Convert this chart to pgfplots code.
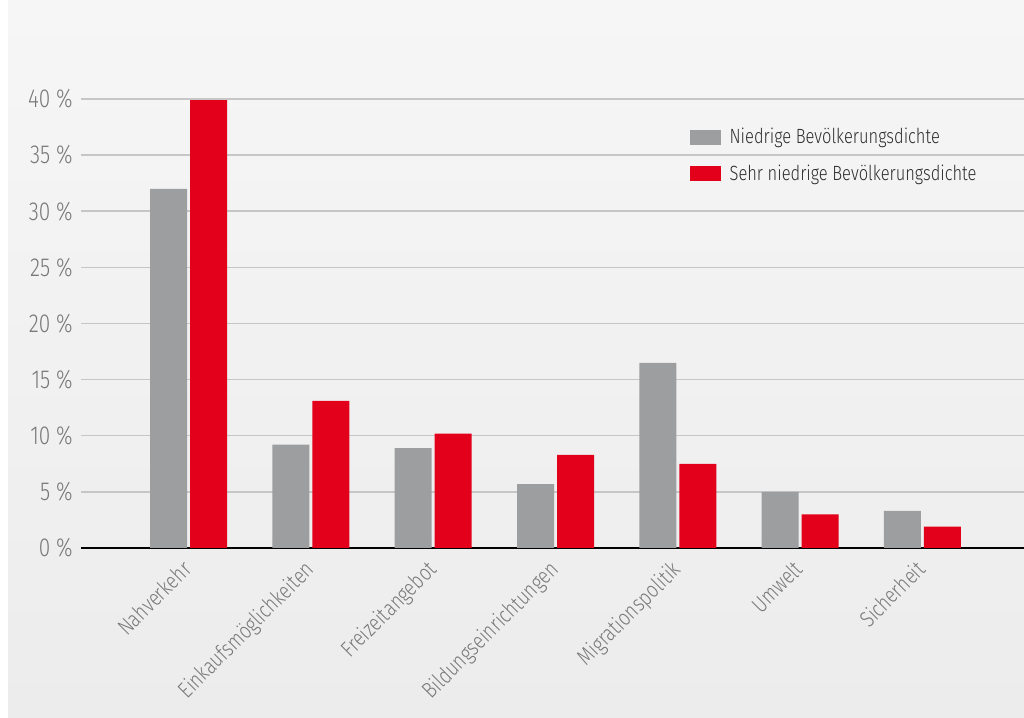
\documentclass[border=0pt]{standalone}
\usepackage{fontspec}
\setmainfont{Fira Sans Light}[FakeStretch=0.8]
\usepackage{pgfplots}
\usepackage{pgfplotstable}
\pgfplotsset{compat=1.18}
\definecolor{bargray}{HTML}{9D9EA0}
\definecolor{barred}{HTML}{E2001A}
\definecolor{txtgray}{HTML}{787878}
\definecolor{legtxt}{HTML}{2E2E2E}
\definecolor{gridgray}{HTML}{C6C6C6}
\definecolor{bgtop}{HTML}{F6F6F6}
\definecolor{bgbot}{HTML}{ECECEC}
\pgfplotstableread{
x gray red
0 32.0 39.9
1 9.2 13.1
2 8.9 10.2
3 5.7 8.3
4 16.5 7.5
5 5.0 3.0
6 3.3 1.9
}\data
\begin{document}
\begin{tikzpicture}
\useasboundingbox (0pt,0pt) rectangle (512pt,359pt);
\fill[white] (0pt,0pt) rectangle (512pt,359pt);
\shade[top color=bgtop, bottom color=bgbot] (4pt,0pt) rectangle (512pt,359pt);
\begin{axis}[
  at={(40.5pt,85pt)}, anchor=south west,
  scale only axis, width=471.5pt, height=224.5pt,
  xmin=-0.881, xmax=6.832, ymin=0, ymax=40,
  ybar=1.5pt, bar width=18.5pt,
  axis x line*=bottom, axis y line*=left,
  y axis line style={draw=none},
  x axis line style={black, line width=1.2pt},
  major tick length=0pt,
  ytick={0,5,...,40},
  yticklabel={\pgfmathprintnumber[assume math mode=true]{\tick}~\%},
  yticklabel style={anchor=east, inner sep=0pt, xshift=-4pt, font=\fontsize{13}{15}\selectfont, text=txtgray},
  ymajorgrids, major grid style={gridgray, line width=0.75pt},
  xtick=data,
  xticklabels={Nahverkehr,Einkaufsmöglichkeiten,Freizeitangebot,Bildungseinrichtungen,Migrationspolitik,Umwelt,Sicherheit},
  xticklabel style={xshift=-3.8pt, yshift=-5.3pt, rotate=45, anchor=north east, inner sep=0pt, font=\fontsize{11.3}{13}\selectfont, text=txtgray},
  legend image code/.code={\fill[#1] (0pt,-3.75pt) rectangle (15.5pt,3.75pt);},
  legend style={at={(0.645,0.94)}, anchor=north west, draw=none, fill=none, inner sep=0pt,
    font=\fontsize{10.3}{12}\selectfont, text=legtxt, row sep=6.9pt,
    nodes={inner xsep=2.5pt, inner ysep=1pt},
    /tikz/every odd column/.append style={column sep=2pt}},
  legend cell align=left,
  clip=false,
]
\addplot[fill=bargray, draw=none] table[x=x, y=gray] {\data};
\addplot[fill=barred, draw=none] table[x=x, y=red] {\data};
\legend{Niedrige Bevölkerungsdichte, Sehr niedrige Bevölkerungsdichte}
\end{axis}
\end{tikzpicture}
\end{document}
